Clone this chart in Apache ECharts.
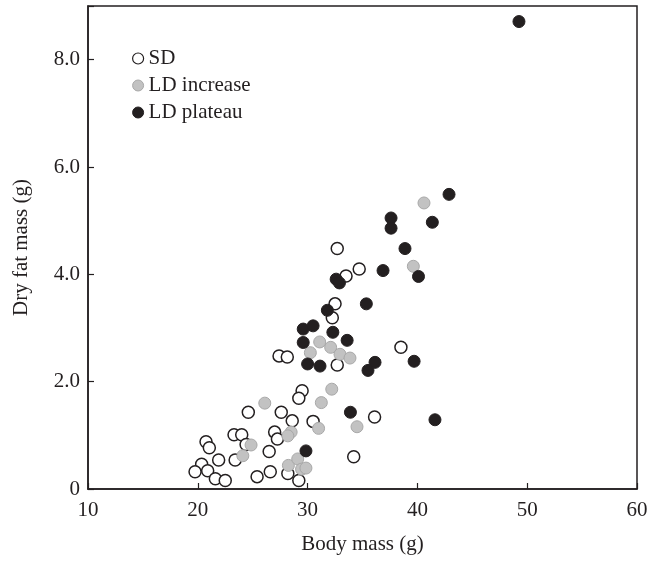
<!DOCTYPE html>
<html>
<head>
<meta charset="utf-8">
<script src="https://cdn.jsdelivr.net/npm/echarts@6/dist/echarts.min.js"></script>
<style>html,body{margin:0;padding:0;background:#fff}#c{width:649px;height:562px}</style>
</head>
<body>
<div id="c"></div>
<script>
var xTicks = [10, 20, 30, 40, 50, 60];
var yTicks = [0, 2, 4, 6, 8];
var seriesNames = ['SD', 'LD increase', 'LD plateau'];
var sdData = [
  [32.7,4.48],[34.7,4.10],[33.5,3.97],[32.5,3.45],[32.25,3.19],[38.5,2.64],
  [27.4,2.48],[28.15,2.46],[32.7,2.31],[29.5,1.83],[29.2,1.69],[24.6,1.43],
  [27.6,1.43],[36.1,1.34],[28.6,1.27],[30.5,1.26],[27.0,1.06],[27.25,0.93],
  [23.3,1.01],[24.0,1.01],[20.75,0.88],[21.05,0.77],[24.4,0.83],[23.4,0.54],
  [21.9,0.54],[26.5,0.70],[20.35,0.46],[19.75,0.32],[20.9,0.34],[21.6,0.19],
  [22.5,0.16],[25.4,0.23],[26.6,0.32],[28.2,0.29],[29.2,0.16],[34.2,0.60]
];
var ldIncreaseData = [
  [40.6,5.33],[39.63,4.15],[31.1,2.74],[32.1,2.64],[30.25,2.54],[32.95,2.51],
  [33.86,2.44],[32.2,1.86],[26.1,1.60],[31.25,1.61],[31.0,1.13],[34.5,1.16],
  [28.5,1.06],[28.2,0.99],[24.85,0.82],[24.1,0.62],[28.25,0.44],[29.1,0.56],
  [29.45,0.37],[29.85,0.39]
];
var ldPlateauData = [
  [49.25,8.71],[42.88,5.49],[41.36,4.97],[37.6,5.05],[37.6,4.86],[38.87,4.48],
  [40.1,3.96],[36.87,4.07],[32.6,3.91],[32.9,3.84],[35.35,3.45],[31.8,3.33],
  [29.6,2.98],[30.5,3.04],[32.3,2.92],[29.6,2.73],[33.6,2.77],[30.0,2.33],
  [31.13,2.29],[36.14,2.36],[35.5,2.21],[39.7,2.38],[33.9,1.43],[29.85,0.71],
  [41.6,1.29]
];

var ink = '#231f20';
var font = '"Liberation Serif", "Times New Roman", serif';
var chart = echarts.init(document.getElementById('c'));
chart.setOption({
  animation: false,
  textStyle: { fontFamily: font, color: ink },
  grid: { left: 88, right: 12, top: 6, bottom: 73, outerBoundsMode: 'none', containLabel: false,
    show: true, borderColor: ink, borderWidth: 1.5, backgroundColor: 'transparent' },
  legend: {
    orient: 'vertical', left: 132, top: 48, padding: 0, itemGap: 6,
    itemWidth: 11, itemHeight: 11,
    textStyle: { fontFamily: font, fontSize: 21, color: ink, lineHeight: 20 },
    data: [
      { name: seriesNames[0], icon: 'circle', itemStyle: { color: '#fff', borderColor: ink, borderWidth: 1.2 } },
      { name: seriesNames[1], icon: 'circle', itemStyle: { color: '#c2c2c2', borderColor: '#a8a8a8', borderWidth: 1 } },
      { name: seriesNames[2], icon: 'circle', itemStyle: { color: ink, borderColor: ink, borderWidth: 1 } }
    ]
  },
  xAxis: {
    type: 'value', min: xTicks[0], max: xTicks[xTicks.length - 1], interval: 10,
    name: 'Body mass (g)', nameLocation: 'middle', nameGap: 45,
    nameTextStyle: { fontFamily: font, fontSize: 21, color: ink },
    axisLine: { show: true, lineStyle: { color: ink, width: 1.5 } },
    axisTick: { show: true, inside: true, length: 6, lineStyle: { color: ink, width: 1.2 } },
    axisLabel: { fontFamily: font, fontSize: 21, color: ink, margin: 11 },
    splitLine: { show: false }
  },
  yAxis: {
    type: 'value', min: 0, max: 9, interval: 2,
    name: 'Dry fat mass (g)', nameLocation: 'middle', nameGap: 56,
    nameTextStyle: { fontFamily: font, fontSize: 21, color: ink },
    axisLine: { show: true, lineStyle: { color: ink, width: 1.5 } },
    axisTick: { show: true, inside: true, length: 6, lineStyle: { color: ink, width: 1.2 } },
    axisLabel: { fontFamily: font, fontSize: 21, color: ink, margin: 8,
      formatter: function (v) { if (yTicks.indexOf(v) < 0) return ''; return v === 0 ? '0' : v.toFixed(1); } },
    splitLine: { show: false }
  },
  series: [
    { name: seriesNames[0], type: 'scatter', symbol: 'circle', symbolSize: 12, data: sdData,
      itemStyle: { color: '#fff', borderColor: ink, borderWidth: 1.5, opacity: 1 } },
    { name: seriesNames[1], type: 'scatter', symbol: 'circle', symbolSize: 12, data: ldIncreaseData,
      itemStyle: { color: '#c2c2c2', borderColor: '#a8a8a8', borderWidth: 1, opacity: 1 } },
    { name: seriesNames[2], type: 'scatter', symbol: 'circle', symbolSize: 12, data: ldPlateauData,
      itemStyle: { color: ink, borderColor: ink, borderWidth: 1, opacity: 1 } }
  ]
});
</script>
</body>
</html>
